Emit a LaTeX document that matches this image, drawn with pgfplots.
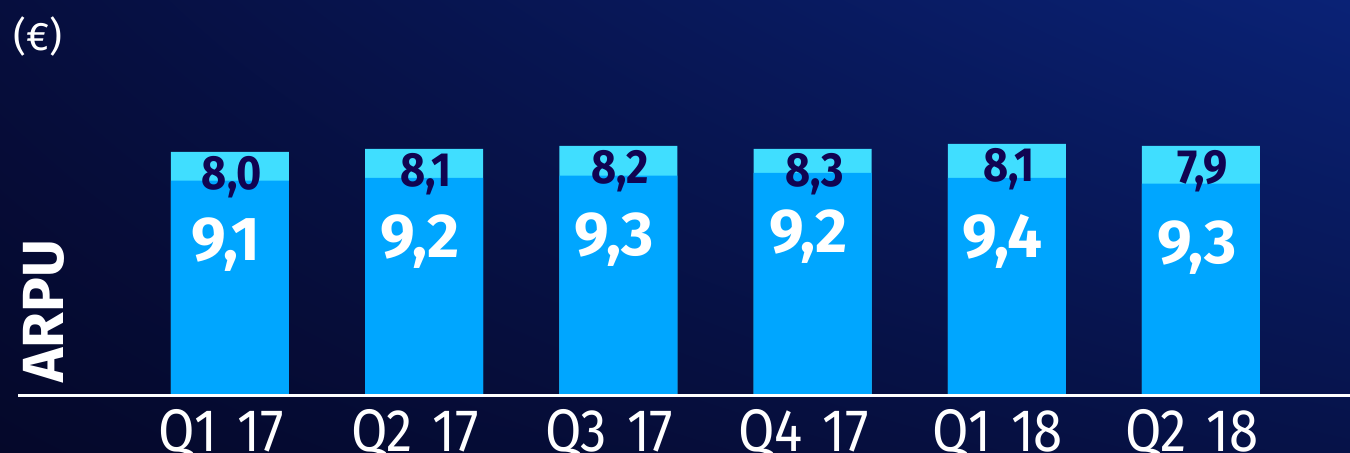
\documentclass[border=0pt]{standalone}
\usepackage{pgfplots}
\pgfplotsset{compat=1.18}
\usetikzlibrary{shadings}
\usepackage{fontspec}
\setmainfont{Fira Sans}
\newfontfamily\cond{Fira Sans}[FakeStretch=0.9]
\newfontfamily\tickf{Fira Sans}[FakeStretch=0.88]
\definecolor{barblue}{RGB}{0,166,255}
\definecolor{barcyan}{RGB}{64,222,255}
\definecolor{navy}{RGB}{16,4,82}
\definecolor{bgLL}{RGB}{5,8,42}
\definecolor{bgUL}{RGB}{6,14,62}
\definecolor{bgLR}{RGB}{6,18,72}
\definecolor{bgUR}{RGB}{10,34,118}
\begin{document}
\begin{tikzpicture}
\shade[lower left=bgLL, upper left=bgUL, lower right=bgLR, upper right=bgUR] (0,-29.5pt) rectangle (675pt,197pt);
\begin{axis}[
  at={(0,0)}, anchor=south west,
  scale only axis, width=675pt, height=197pt,
  xmin=-1.1843, xmax=5.7673, ymin=0, ymax=394,
  axis line style={draw=none},
  ytick=\empty,
  xtick=data,
  xticklabels={Q1\hspace{10pt}17,Q2\hspace{10pt}17,Q3\hspace{10pt}17,Q4\hspace{10pt}17,Q1\hspace{10pt}18,Q2\hspace{10pt}18},
  major tick length=0pt,
  xticklabel style={text=white, font=\tickf\fontsize{30}{30}\selectfont, anchor=base, yshift=-29pt, xshift=-4.5pt},
  clip=false,
  ybar, bar width=59pt,
]
% total bar height (light top section)
\addplot[fill=barcyan, draw=none, bar shift=0pt,
  nodes near coords, point meta=explicit symbolic,
  every node near coord/.append style={anchor=base, yshift=-19pt, xshift=1pt, text=navy, font=\cond\bfseries\fontsize{24}{24}\selectfont}]
  coordinates {(0,242) [8,0] (1,245) [8,1] (2,248) [8,2] (3,245) [8,3] (4,250) [8,1] (5,248) [7,9]};
% lower bar height
\addplot[fill=barblue, draw=none, bar shift=0pt,
  nodes near coords, point meta=explicit symbolic,
  every node near coord/.append style={anchor=base, yshift=-40pt, xshift=-2pt, text=white, font=\bfseries\fontsize{31}{31}\selectfont}]
  coordinates {(0,213.3) [9,1] (1,216) [9,2] (2,218.3) [9,3] (3,221) [9,2] (4,216) [9,4] (5,210.3) [9,3]};
\end{axis}
\draw[white, line width=1.6pt] (9pt,-0.8pt) -- (675pt,-0.8pt);
\node[text=white, font=\fontsize{20}{20}\selectfont] at (19pt,178.5pt) {(€)};
\node[text=white, font=\bfseries\fontsize{29}{29}\selectfont, rotate=90] at (22pt,41.5pt) {ARPU};
\pgfresetboundingbox
\path (0,-29.5pt) rectangle (675pt,197pt);
\end{tikzpicture}
\end{document}
